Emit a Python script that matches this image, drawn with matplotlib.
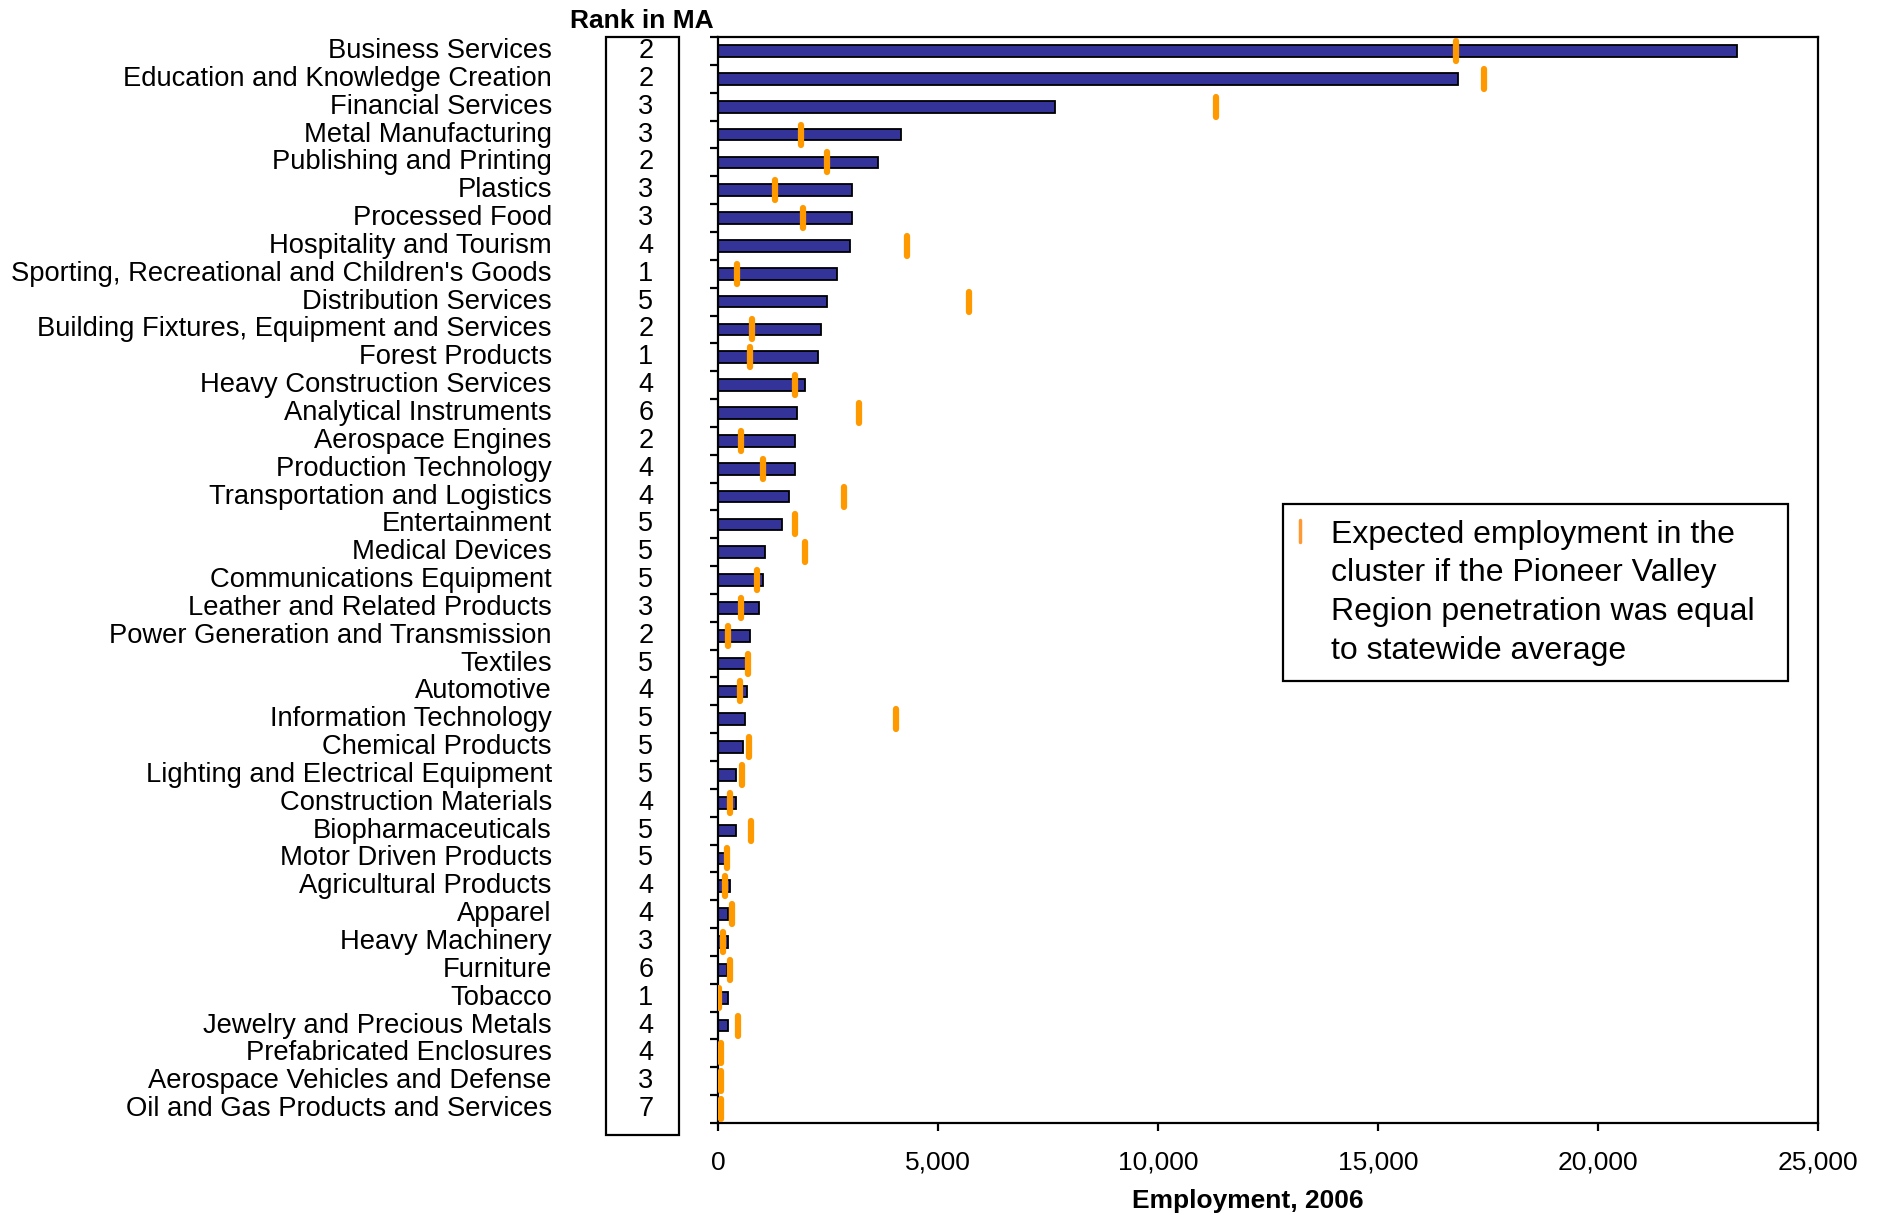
import matplotlib.pyplot as plt
import numpy as np
from matplotlib.lines import Line2D
from matplotlib.markers import MarkerStyle
from matplotlib.patches import Rectangle
from matplotlib.ticker import FuncFormatter

plt.rcParams['font.family'] = ['Liberation Sans', 'DejaVu Sans']

# Data
clusters = [
    'Business Services', 'Education and Knowledge Creation', 'Financial Services',
    'Metal Manufacturing', 'Publishing and Printing', 'Plastics', 'Processed Food',
    'Hospitality and Tourism', "Sporting, Recreational and Children's Goods",
    'Distribution Services', 'Building Fixtures, Equipment and Services',
    'Forest Products', 'Heavy Construction Services', 'Analytical Instruments',
    'Aerospace Engines', 'Production Technology', 'Transportation and Logistics',
    'Entertainment', 'Medical Devices', 'Communications Equipment',
    'Leather and Related Products', 'Power Generation and Transmission', 'Textiles',
    'Automotive', 'Information Technology', 'Chemical Products',
    'Lighting and Electrical Equipment', 'Construction Materials',
    'Biopharmaceuticals', 'Motor Driven Products', 'Agricultural Products',
    'Apparel', 'Heavy Machinery', 'Furniture', 'Tobacco',
    'Jewelry and Precious Metals', 'Prefabricated Enclosures',
    'Aerospace Vehicles and Defense', 'Oil and Gas Products and Services',
]
rank_in_ma = [2, 2, 3, 3, 2, 3, 3, 4, 1, 5, 2, 1, 4, 6, 2, 4, 4, 5, 5, 5,
              3, 2, 5, 4, 5, 5, 5, 4, 5, 5, 4, 4, 3, 6, 1, 4, 4, 3, 7]
employment = [23170, 16830, 7650, 4170, 3630, 3050, 3050, 3010, 2710, 2480,
              2335, 2280, 1985, 1795, 1750, 1750, 1612, 1455, 1070, 1020,
              923, 732, 630, 650, 614, 561, 417, 417, 409, 152,
              280, 220, 220, 205, 227, 220, 15, 10, 10]
expected = [16770, 17410, 11320, 1880, 2470, 1300, 1934, 4302, 435, 5700,
            775, 732, 1742, 3197, 531, 1019, 2857, 1742, 1986, 880,
            531, 235, 679, 500, 4038, 697, 553, 265, 750, 212,
            159, 311, 121, 265, 23, 455, 61, 61, 61]

y = np.arange(len(clusters))

fig = plt.figure(figsize=(18.79, 12.15), dpi=100)
ax = fig.add_axes([0.3821, 0.0757, 0.5854, 0.8938])

ax.barh(y, employment, height=0.42, color='#333399', edgecolor='black', linewidth=1.3)
ax.plot(expected, y, linestyle='none',
        marker=MarkerStyle('|', capstyle='round'), markersize=15,
        markeredgewidth=4.5, color='#FF9900', zorder=3)

ax.set_xlim(0, 25000)
ax.set_ylim(len(clusters) - 0.5, -0.5)
ax.set_xticks(np.arange(0, 25001, 5000))
ax.xaxis.set_major_formatter(FuncFormatter(lambda v, p: f'{int(v):,}'))
ax.set_yticks(np.arange(len(clusters) + 1) - 0.5)
ax.set_yticklabels([])
ax.tick_params(axis='both', direction='out', length=6, width=1.6, labelsize=19)
ax.tick_params(axis='x', pad=14)
for s in ax.spines.values():
    s.set_linewidth(1.6)

ax.set_xlabel('Employment, 2006', fontsize=19, fontweight='bold', labelpad=10)
ax.xaxis.label.set_x(0.4814)

# cluster names and rank column
for yi, name, r in zip(y, clusters, rank_in_ma):
    ax.text(-0.151, yi, name, transform=ax.get_yaxis_transform(),
            ha='right', va='center', fontsize=19.75)
    ax.text(-0.0655, yi, str(r), transform=ax.get_yaxis_transform(),
            ha='center', va='center', fontsize=19.5)

ax.add_patch(Rectangle((-0.1018, -0.011), 0.0663, 1.011, transform=ax.transAxes,
                       fill=False, edgecolor='black', linewidth=1.6, clip_on=False))
ax.text(-0.069, 1.004, 'Rank in MA', transform=ax.transAxes, ha='center', va='bottom',
        fontsize=19, fontweight='bold')

# legend: one marker and a four-line caption
legend_lines = ['Expected employment in the', 'cluster if the Pioneer Valley',
                'Region penetration was equal  ', 'to statewide average']
handles = [Line2D([], [], linestyle='none', marker=MarkerStyle('|', capstyle='round'),
                  markersize=16, markeredgewidth=2.5, color='#FF9933')]
handles += [Line2D([], [], linestyle='none') for _ in legend_lines[1:]]
leg = ax.legend(handles, legend_lines, loc='upper left', bbox_to_anchor=(0.5136, 0.570),
                fontsize=23, frameon=True, fancybox=False, edgecolor='black',
                framealpha=1, handlelength=0.1, handletextpad=0.9, borderpad=0.49,
                labelspacing=0.27, borderaxespad=0)
leg.get_frame().set_linewidth(1.6)

fig.savefig('out.png', dpi=100)
